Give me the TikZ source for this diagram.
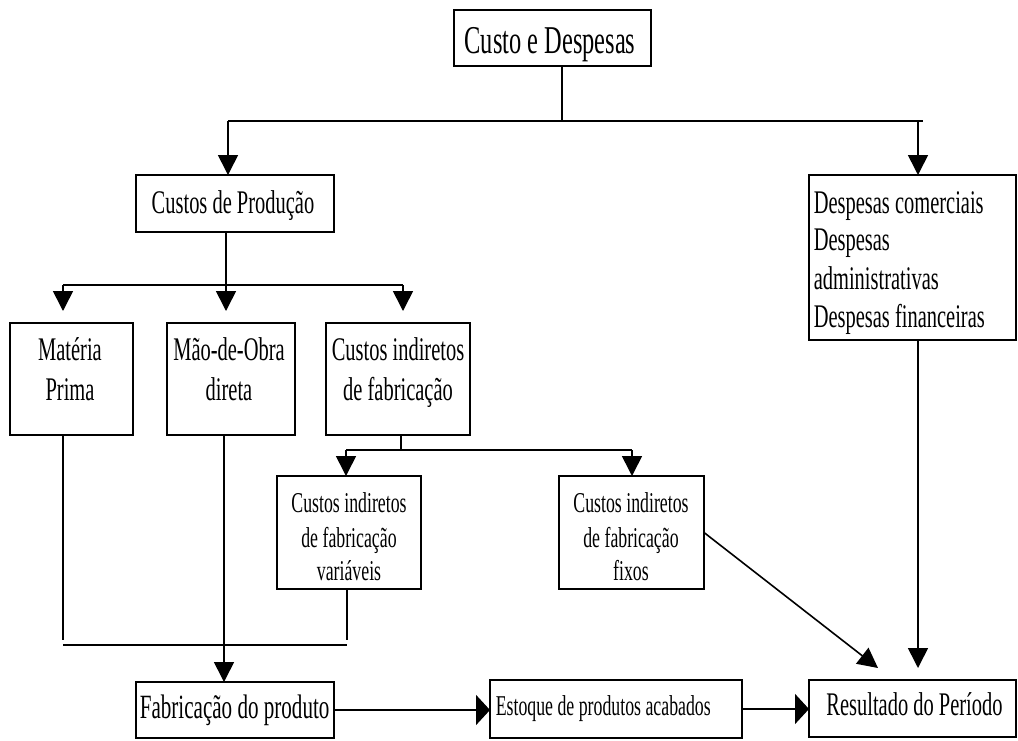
\documentclass[tikz,border=0pt]{standalone}
\usepackage{fontspec}
\setmainfont[FakeStretch=0.62]{Liberation Serif}
\usetikzlibrary{arrows.meta}
\newcommand{\fbig}{\fontsize{39.4}{39.4}\selectfont}
\newcommand{\fmain}{\fontsize{33}{33}\selectfont}
\newcommand{\fsmall}{\fontsize{28.7}{28.7}\selectfont}
\begin{document}
\begin{tikzpicture}[x=1pt,y=-1pt,line width=1.6pt,
  boxnode/.style={draw,rectangle,inner sep=0pt,outer sep=0pt},
  lbl/.style={inner sep=0pt,anchor=base,font=\fmain},
  lblw/.style={inner sep=0pt,anchor=base west,font=\fmain},
  arr/.style={-{Triangle[length=20pt,width=20pt]}},
  harr/.style={-{Triangle[length=14pt,width=30pt]}}]
\fill[white] (0,0) rectangle (1018,740);
\useasboundingbox (0,0) rectangle (1018,740);
% boxes
\node[boxnode,minimum width=197pt,minimum height=56pt] (ce) at (552.5,38) {};
\node[boxnode,minimum width=198pt,minimum height=57pt] (cp) at (235,203.5) {};
\node[boxnode,minimum width=207pt,minimum height=165pt] (desp) at (912.5,257.5) {};
\node[boxnode,minimum width=123pt,minimum height=112pt] (mp) at (71.5,379) {};
\node[boxnode,minimum width=128pt,minimum height=112pt] (mo) at (231,379) {};
\node[boxnode,minimum width=144pt,minimum height=112pt] (ci) at (398,379) {};
\node[boxnode,minimum width=144pt,minimum height=113pt] (cv) at (349,532.5) {};
\node[boxnode,minimum width=145pt,minimum height=113pt] (cf) at (631.5,532.5) {};
\node[boxnode,minimum width=198pt,minimum height=56pt] (fab) at (235,710) {};
\node[boxnode,minimum width=252pt,minimum height=58pt] (est) at (616,709) {};
\node[boxnode,minimum width=207pt,minimum height=57pt] (res) at (912.5,708.5) {};
% texts
\node[lbl,font=\fbig] (tce) at (550,53) {Custo e Despesas};
\node[lbl] (tcp) at (233,213) {Custos de Produção};
\node[lbl] (tmp1) at (70,360) {Matéria};
\node[lbl] (tmp2) at (70,400) {Prima};
\node[lbl] (tmo1) at (229,360) {Mão-de-Obra};
\node[lbl] (tmo2) at (229,400) {direta};
\node[lbl] (tci1) at (398,360) {Custos indiretos};
\node[lbl] (tci2) at (398,400) {de fabricação};
\node[lbl,font=\fsmall] (tcv1) at (349,512) {Custos indiretos};
\node[lbl,font=\fsmall] (tcv2) at (349,547) {de fabricação};
\node[lbl,font=\fsmall] (tcv3) at (349,580) {variáveis};
\node[lbl,font=\fsmall] (tcf1) at (631,512) {Custos indiretos};
\node[lbl,font=\fsmall] (tcf2) at (631,547) {de fabricação};
\node[lbl,font=\fsmall] (tcf3) at (631,580) {fixos};
\node[lblw] (td1) at (813,213) {Despesas comerciais};
\node[lblw] (td2) at (813,250) {Despesas};
\node[lblw] (td3) at (813,289) {administrativas};
\node[lblw] (td4) at (813,327) {Despesas financeiras};
\node[lblw,font=\fontsize{34}{34}\selectfont] (tfab) at (139,718) {Fabricação do produto};
\node[lblw,font=\fsmall] (test) at (495,715) {Estoque de produtos acabados};
\node[lbl] (tres) at (914.5,715) {Resultado do Período};
% top level connectors
\coordinate (t1) at (562,121);
\coordinate (tl) at (228,121);
\coordinate (tr) at (918,121);
\coordinate (tre) at (923,121);
\draw (ce.south -| t1) -- (t1);
\draw (tl) -- (tre);
\draw[arr] (tl) -- (tl |- cp.north);
\draw[arr] (tr) -- (tr |- desp.north);
% production costs
\coordinate (p1) at (226,285);
\coordinate (pl) at (63,285);
\coordinate (pr) at (403,285);
\draw (p1 |- cp.south) -- (p1);
\draw (pl) -- (pr);
\draw[arr,shorten >=12pt] (pl) -- (pl |- mp.north);
\draw[arr,shorten >=12pt] (p1) -- (p1 |- mo.north);
\draw[arr,shorten >=12pt] (pr) -- (pr |- ci.north);
% indirect costs
\coordinate (q1) at (401,450);
\coordinate (ql) at (346,450);
\coordinate (qr) at (632,450);
\draw (q1 |- ci.south) -- (q1);
\draw (ql) -- (qr);
\draw[arr] (ql) -- (ql |- cv.north);
\draw[arr] (qr) -- (qr |- cf.north);
% bottom collector
\coordinate (m1) at (63,640);
\coordinate (v1) at (347,640);
\coordinate (hl) at (63,645);
\coordinate (hr) at (347,645);
\draw (m1 |- mp.south) -- (m1);
\draw (v1 |- cv.south) -- (v1);
\draw (hl) -- (hr);
\coordinate (mx) at (224,435);
\draw[arr] (mx) -- (mx |- fab.north);
% bottom row
\draw[harr] (fab.east) -- (fab.east -| est.west);
\draw[harr] (est.east) -- (est.east -| res.west);
\draw[arr,shorten >=12pt] (desp.south -| tr) -- (tr |- res.north);
\coordinate (dg) at (878,668);
\draw[arr] (cf.east) -- (dg);
\end{tikzpicture}
\end{document}
